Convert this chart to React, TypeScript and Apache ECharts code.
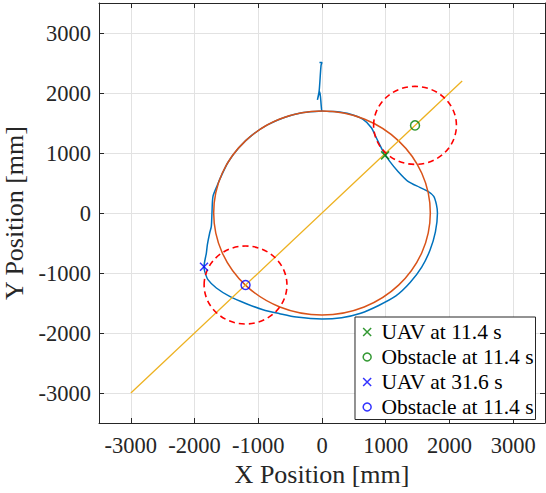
import React, { useEffect, useRef } from "react";
import * as echarts from "echarts";

// ---- data ----
const xTickValues = [-3000, -2000, -1000, 0, 1000, 2000, 3000];
const yTickValues = [-3000, -2000, -1000, 0, 1000, 2000, 3000];

const trajectoryX = [
  -40, 0, -15, -45, -72, -35, -10, 0, 200, 435, 644, 775, 854, 958, 1063, 1193, 1350, 1534, 1664, 1754,
  1796, 1812, 1780, 1696, 1565, 1383, 1160, 890, 608, 308, 0, -402, -664, -926, -1187, -1449, -1658,
  -1790, -1841, -1852, -1815, -1799, -1763, -1737, -1727, -1711, -1640, -1597, -1472, -1302, -1093,
  -850, -581, -295, 0,
];
const trajectoryY = [
  2510, 2510, 2460, 2030, 1885, 2020, 1760, 1702, 1690, 1650, 1560, 1420, 1250, 1030, 860, 693, 527, 427,
  360, 277, 139, 0, -314, -617, -903, -1160, -1383, -1541, -1670, -1745, -1768, -1735, -1678, -1612,
  -1512, -1390, -1250, -1111, -973, -895, -667, -528, -333, -222, 0, 277, 470, 581, 850, 1093, 1302,
  1472, 1597, 1674, 1700,
];

const guideLineX = [-3000, 2200];
const guideLineY = [-3000, 2200];

const pathCircleX = [0];
const pathCircleY = [0];
const pathCircleR = [1700];

const safetyZoneX = [1460, -1200];
const safetyZoneY = [1460, -1200];
const safetyZoneR = [650, 650];

const markerLabels = ["UAV at 11.4 s", "Obstacle at 11.4 s", "UAV at 31.6 s", "Obstacle at 11.4 s"];
const markerX = [990, 1460, -1852, -1200];
const markerY = [960, 1460, -895, -1200];
const markerColors = ["#008000", "#008000", "#0000FF", "#0000FF"];
const markerKinds = ["cross", "circle", "cross", "circle"];

// ---- styles ----
const FONT = "'Liberation Serif', 'Times New Roman', serif";
const AXIS_COLOR = "#262626";
const CROSS = "path://M0,0L10,10M10,0L0,10";

export default function App() {
  const ref = useRef<HTMLDivElement>(null);

  useEffect(() => {
    if (!ref.current) return;
    const chart = echarts.init(ref.current, undefined, { renderer: "svg" });

    const tickLabel = {
      fontFamily: FONT,
      fontSize: 22.5,
      color: AXIS_COLOR,
    };

    const makeAxis = (isX: boolean, primary: boolean) => ({
      type: "value",
      min: -3500,
      max: 3500,
      position: isX ? (primary ? "bottom" : "top") : primary ? "left" : "right",
      axisLine: { show: true, onZero: false, lineStyle: { color: AXIS_COLOR, width: 1 } },
      axisTick: {
        show: true,
        inside: true,
        length: 5,
        customValues: isX ? xTickValues : yTickValues,
        lineStyle: { color: AXIS_COLOR, width: 1 },
      },
      axisLabel: primary
        ? {
            show: true,
            customValues: isX ? xTickValues : yTickValues,
            formatter: (v: number) => String(v),
            margin: isX ? 11 : 8,
            ...tickLabel,
          }
        : { show: false },
      splitLine: primary
        ? { show: true, lineStyle: { color: "#e2e2e2", width: 1 } }
        : { show: false },
      name: primary ? (isX ? "X Position [mm]" : "Y Position [mm]") : "",
      nameLocation: "middle",
      nameGap: isX ? 38 : 65,
      nameTextStyle: { fontFamily: FONT, fontSize: 26, color: AXIS_COLOR },
    });

    const ellipseSeries = (
      xs: number[],
      ys: number[],
      rs: number[],
      style: any,
      z: number
    ) => ({
      type: "custom",
      silent: true,
      clip: false,
      z,
      data: xs.map((x, i) => [x, ys[i], rs[i]]),
      encode: { x: 0, y: 1 },
      renderItem: (params: any, api: any) => {
        const c = api.coord([api.value(0), api.value(1)]);
        const s = api.size([api.value(2), api.value(2)], [api.value(0), api.value(1)]);
        return {
          type: "ellipse",
          shape: { cx: c[0], cy: c[1], rx: s[0], ry: s[1] },
          style: { fill: "none", ...style },
        };
      },
    });

    const markerSeries = markerLabels.map((label, i) => ({
      type: "scatter",
      name: "m" + i,
      z: 10,
      symbol: markerKinds[i] === "cross" ? CROSS : "circle",
      symbolSize: markerKinds[i] === "cross" ? 8 : 9,
      itemStyle: {
        color: "rgba(0,0,0,0)",
        borderColor: markerColors[i],
        borderWidth: 1.5,
      },
      data: [[markerX[i], markerY[i]]],
    }));

    chart.setOption({
      animation: false,
      grid: {
        left: 99,
        top: 3,
        width: 446,
        height: 420,
        containLabel: false,
        outerBoundsMode: "none",
      },
      xAxis: [makeAxis(true, true), makeAxis(true, false)],
      yAxis: [makeAxis(false, true), makeAxis(false, false)],
      legend: {
        orient: "vertical",
        left: 355,
        top: 317,
        padding: [2.5, 2, 0, 7.4],
        itemWidth: 18.6,
        itemHeight: 8,
        itemGap: 0,
        selectedMode: false,
        backgroundColor: "#ffffff",
        borderColor: AXIS_COLOR,
        borderWidth: 1,
        textStyle: { fontFamily: FONT, fontSize: 21.5, color: "#000", lineHeight: 25 },
        formatter: (name: string) => markerLabels[Number(name.slice(1))],
        data: markerLabels.map((_, i) => ({
          name: "m" + i,
          icon: markerKinds[i] === "cross" ? CROSS : "circle",
          itemStyle: {
            color: "rgba(0,0,0,0)",
            borderColor: markerColors[i],
            borderWidth: 1.5,
          },
        })),
      },
      series: [
        {
          type: "line",
          name: "trajectory",
          z: 2,
          showSymbol: false,
          symbol: "none",
          smooth: 0.25,
          lineStyle: { color: "#0072BD", width: 1.5 },
          data: trajectoryX.map((x, i) => [x, trajectoryY[i]]),
        },
        ellipseSeries(pathCircleX, pathCircleY, pathCircleR, { stroke: "#D95319", lineWidth: 1.5 }, 3),
        {
          type: "line",
          name: "guide",
          z: 4,
          showSymbol: false,
          symbol: "none",
          lineStyle: { color: "#EDB120", width: 1.3 },
          data: guideLineX.map((x, i) => [x, guideLineY[i]]),
        },
        ellipseSeries(
          safetyZoneX,
          safetyZoneY,
          safetyZoneR,
          { stroke: "#FF0000", lineWidth: 1.6, lineDash: [6, 4] },
          5
        ),
        ...markerSeries,
      ],
    });

    return () => chart.dispose();
  }, []);

  return (
    <div
      ref={ref}
      style={{ position: "fixed", left: 0, top: 0, width: 546, height: 493, background: "#fff" }}
    />
  );
}
